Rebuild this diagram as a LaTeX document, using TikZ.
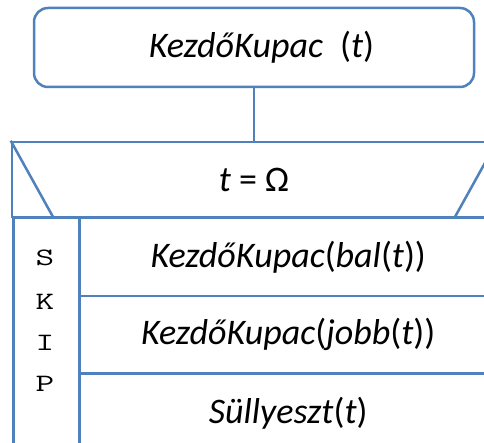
\documentclass[tikz,border=0pt]{standalone}
\usepackage{fontspec}
\setmainfont{Carlito}
\usetikzlibrary{calc}
\definecolor{lineblue}{RGB}{79,129,189}
\newcommand{\wideletter}[1]{\scalebox{1.45}[1]{#1}}
\begin{document}
\begin{tikzpicture}[x=1pt,y=-1pt,
  box/.style={draw=lineblue, line width=2.5pt, inner sep=0pt, fill=white,
    font=\fontsize{36}{40}\selectfont},
  conn/.style={draw=lineblue, line width=2.5pt},
  skipletter/.style={font=\ttfamily\fontsize{25}{28}\selectfont, inner sep=0pt, anchor=base}]
\useasboundingbox (0,0) rectangle (484,443);
\fill[white] (0,0) rectangle (484,443);
\clip (0,0) rectangle (484,443);
% start box
\node[box, rounded corners=14pt, minimum width=440pt, minimum height=79pt] (start) at (254,47.5)
  {\hspace*{15pt}\textit{KezdőKupac}\hspace{0.25em} (\textit{t})};
% loop header
\node[box, minimum width=484pt, minimum height=75pt] (loop) at (254,179.5) {\textit{t} = Ω};
\draw[conn] (start.south) -- (start.south |- loop.north);
\draw[conn] (loop.north west) -- ($(loop.south west)+(43,0)$);
\draw[conn] (loop.north east) -- ($(loop.south east)+(-43,0)$);
% skip column
\node[box, minimum width=66pt, minimum height=240pt, anchor=north west] (skipcol) at (12,217) {};
\node[skipletter] (s1) at (45,266) {\wideletter{S}};
\node[skipletter] (s2) at (45,309) {\wideletter{K}};
\node[skipletter] (s3) at (45,350) {\wideletter{I}};
\node[skipletter] (s4) at (45,391) {\wideletter{P}};
% rows
\node[box, minimum width=418pt, minimum height=78pt, anchor=north west] (r1) at (78,217)
  {\textit{KezdőKupac}(\textit{bal}(\textit{t}))};
\node[box, minimum width=418pt, minimum height=77pt, anchor=north west] (r2) at (78,295)
  {\textit{KezdőKupac}(\textit{jobb}(\textit{t}))};
\node[box, minimum width=418pt, minimum height=80pt, anchor=north west] (r3) at (78,372)
  {\textit{Süllyeszt}(\textit{t})};
\end{tikzpicture}
\end{document}
